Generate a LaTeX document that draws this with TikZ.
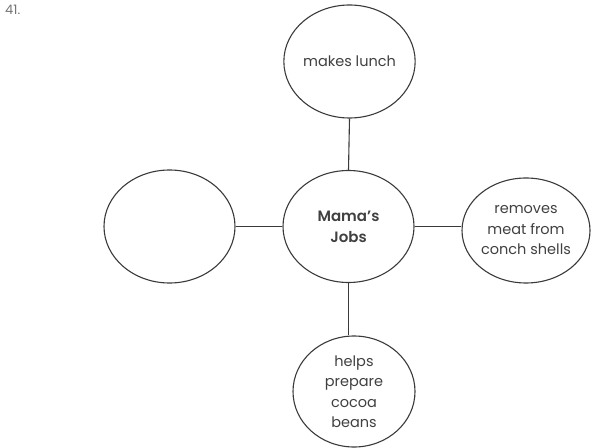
\documentclass[tikz,border=0pt]{standalone}
\usepackage{fontspec}
\setmainfont{Poppins}[BoldFont={* SemiBold}]
\usetikzlibrary{shapes.geometric}
\definecolor{ink}{HTML}{3A3A3A}
\definecolor{txt}{HTML}{404040}
\tikzset{
  bubble/.style={ellipse, draw=ink, line width=1.1bp, inner sep=0pt,
    align=center, text=txt, font=\fontsize{14.5bp}{20.5bp}\selectfont},
  hub/.style={bubble, font=\fontsize{15bp}{21bp}\selectfont\bfseries},
  link/.style={draw=ink, line width=1.1bp}
}
\begin{document}
\begin{tikzpicture}[x=1bp, y=-1bp]
  \useasboundingbox (0,0) rectangle (592,448);
  \node[anchor=north west, inner sep=0pt, text=gray!90!black, font=\fontsize{13bp}{14bp}\selectfont] (num) at (5,5) {41.};
  \node[hub, minimum width=131bp, minimum height=112bp] (center) at (348.5,226.5) {Mama's\\Jobs};
  \node[bubble, minimum width=129bp, minimum height=113bp] (top) at (349.5,61.5) {makes lunch};
  \node[bubble, minimum width=131bp, minimum height=113bp] (left) at (169.5,226.5) {};
  \node[bubble, minimum width=128bp, minimum height=105bp] (right) at (526,230.5) {removes\\meat from\\conch shells};
  \node[bubble, minimum width=122bp, minimum height=111bp] (bottom) at (354,391.5) {helps\\prepare\\cocoa\\beans};
  \draw[link] (center.north) -- (top.south);
  \draw[link] (center.south) -- (center.south |- bottom.north);
  \draw[link] (center.west) -- (left.east);
  \draw[link] (center.east) -- (center.east -| right.west);
\end{tikzpicture}
\end{document}
